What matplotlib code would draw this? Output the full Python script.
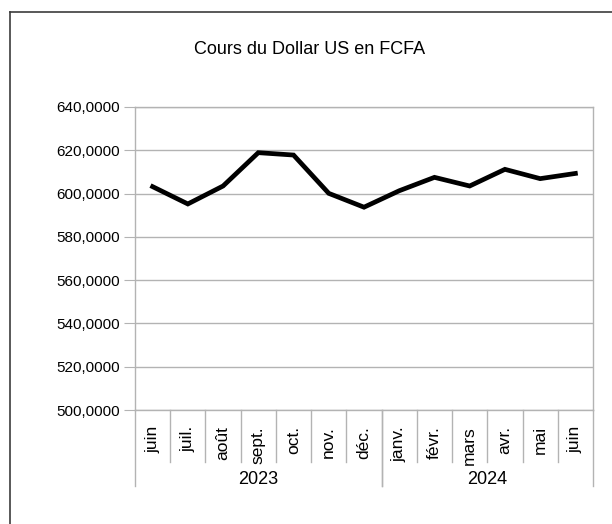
import matplotlib
matplotlib.use("Agg")
import matplotlib.pyplot as plt
from matplotlib.lines import Line2D
from matplotlib.ticker import FuncFormatter

plt.rcParams['font.family'] = ['Liberation Sans', 'DejaVu Sans']

months = ["juin", "juil.", "août", "sept.", "oct.", "nov.", "déc.",
          "janv.", "févr.", "mars", "avr.", "mai", "juin"]
years = ["2023", "2024"]
year_spans = [(0, 7), (7, 13)]
rates = [603.2, 595.2, 603.5, 618.9, 617.8, 600.1, 593.7,
         601.3, 607.5, 603.5, 611.2, 606.9, 609.3]
title = "Cours du Dollar US en FCFA"

grey = "#b3b3b3"
W, H = 612, 524

fig = plt.figure(figsize=(W / 100, H / 100), dpi=100)
ax = fig.add_axes([135 / W, 1 - 410 / H, (593 - 135) / W, (410 - 107) / H])

x = [i + 0.5 for i in range(len(months))]
ax.plot(x, rates, color="black", lw=3.4, solid_joinstyle="miter", zorder=3)

ax.set_xlim(0, len(months))
ax.set_ylim(500, 640)
ax.set_yticks(range(500, 641, 20))
ax.yaxis.set_major_formatter(FuncFormatter(lambda v, p: f"{v:.4f}".replace(".", ",")))
ax.tick_params(axis="y", length=8, color=grey, labelsize=11, pad=3)
ax.set_xticks([])
ax.grid(axis="y", color=grey, lw=1)
for s in ax.spines.values():
    s.set_color(grey)
    s.set_linewidth(1)

# category axis: separators, month labels, year labels
tr = ax.get_xaxis_transform()
px = 1 / (410 - 107)  # one pixel in axes fraction (vertical)
for i in range(1, len(months)):
    if i == 7:
        continue
    ax.add_line(Line2D([i, i], [0, -52 * px], transform=tr, color=grey, lw=1, clip_on=False))
for start, end in year_spans:
    for b in (start, end):
        ax.add_line(Line2D([b, b], [0, -76 * px], transform=tr, color=grey, lw=1, clip_on=False))
for xi, m in zip(x, months):
    ax.text(xi, -16 * px, m, transform=tr, rotation=90, ha="center", va="top", fontsize=12.5)
for (start, end), y in zip(year_spans, years):
    ax.text((start + end) / 2, -69 * px, y, transform=tr, ha="center", va="center", fontsize=13)

fig.text(310 / W, 1 - 49 / H, title, ha="center", va="center", fontsize=13)

# outer frame
fig.add_artist(Line2D([10 / W, 1], [1 - 11.5 / H, 1 - 11.5 / H], transform=fig.transFigure, color="#3c3c3c", lw=1.2))
fig.add_artist(Line2D([10 / W, 10 / W], [0, 1 - 11.5 / H], transform=fig.transFigure, color="#3c3c3c", lw=1.2))

fig.savefig("out.png", dpi=100)
